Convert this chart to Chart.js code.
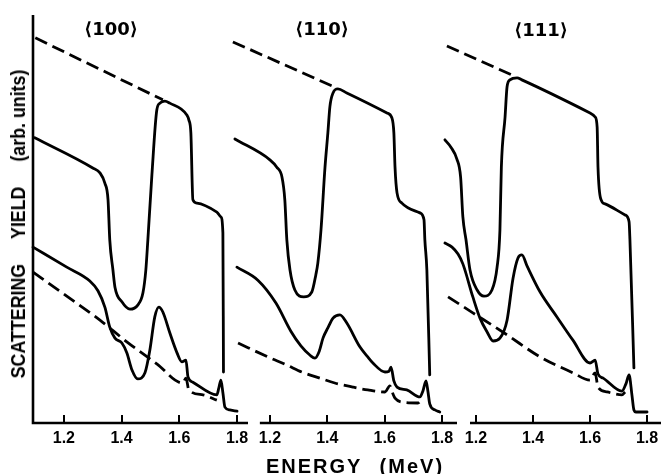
<!DOCTYPE html>
<html><head><meta charset="utf-8">
<script src="https://cdn.jsdelivr.net/npm/chart.js@4.4.1/dist/chart.umd.min.js"></script>
<style>
html,body{margin:0;padding:0;background:#fff;}
#wrap{position:relative;width:661px;height:474px;overflow:hidden;background:#fff;}
canvas{position:absolute;left:0;top:0;}
.t{position:absolute;color:#000;white-space:pre;font-family:"Liberation Sans",Arial,sans-serif;font-weight:bold;}
.pt{font-family:"DejaVu Sans",sans-serif;font-size:18px;line-height:18px;width:100px;text-align:center;}
#xtitle{left:250px;top:456px;width:210px;text-align:center;font-size:20px;line-height:20px;letter-spacing:2px;word-spacing:10px;}
#ytitle{left:-152px;top:217px;width:340px;height:20px;text-align:center;font-size:20px;line-height:20px;transform:rotate(-90deg) scaleX(0.89);}
.gap{display:inline-block;width:28px;}
</style></head><body>
<div id="wrap">
<canvas id="c100" width="661" height="474"></canvas>
<canvas id="c110" width="661" height="474"></canvas>
<canvas id="c111" width="661" height="474"></canvas>
<div class="t pt" id="t0" style="left:61px;top:20px;"></div>
<div class="t pt" id="t1" style="left:272px;top:20px;"></div>
<div class="t pt" id="t2" style="left:491px;top:21px;"></div>
<div class="t" id="xtitle">ENERGY (MeV)</div>
<div class="t" id="ytitle">SCATTERING<span class="gap"> </span>YIELD<span class="gap"> </span>(arb. units)</div>
</div>
<script>
// ---- labels ----
const panelTitles = ['\u27E8100\u27E9', '\u27E8110\u27E9', '\u27E8111\u27E9'];
const tickValues = [1.2, 1.4, 1.6, 1.8];
// visible x-axis extent of each panel (MeV)
const axisStart = [1.093, 1.165, 1.179];
const axisEnd = [1.838, 1.852, 1.849];
// plotted energy range of each panel (MeV)
const rangeMin = [1.093, 1.070, 1.085];
const rangeMax = [1.838, 1.852, 1.849];

// ---- <100> ----
const e100RandUpper = [1.101, 1.543];
const y100RandUpper = [94.4, 79.2];
const e100AlignUpper = [1.099, 1.300, 1.325, 1.342, 1.353, 1.359, 1.370, 1.377, 1.401, 1.429, 1.456, 1.474, 1.484, 1.491, 1.505, 1.522, 1.533, 1.550, 1.567, 1.626, 1.633, 1.640, 1.647, 1.661, 1.730, 1.744, 1.751, 1.753];
const y100AlignUpper = [69.9, 62.5, 61.3, 58.8, 54.7, 44.9, 37.5, 33.3, 29.7, 27.9, 28.9, 31.9, 37.5, 44.9, 60.8, 76.7, 78.4, 78.9, 78.4, 75.5, 74.3, 71.1, 54.7, 53.9, 51.7, 50.5, 46.6, 12.5];
const e100AlignLower = [1.093, 1.210, 1.290, 1.318, 1.342, 1.359, 1.377, 1.401, 1.418, 1.436, 1.456, 1.481, 1.498, 1.515, 1.529, 1.543, 1.567, 1.592, 1.609, 1.623, 1.630, 1.647, 1.730, 1.737, 1.744, 1.751, 1.758, 1.775, 1.800];
const y100AlignLower = [43.1, 38.2, 34.8, 32.4, 28.4, 23.5, 20.8, 19.6, 17.2, 13.0, 10.8, 12.3, 17.9, 26.0, 28.4, 27.2, 22.1, 17.2, 15.0, 15.4, 11.3, 10.0, 6.9, 8.6, 10.5, 7.4, 3.9, 3.2, 2.9];
const e100RandLower = [1.093, 1.210, 1.325, 1.418, 1.522, 1.612, 1.623, 1.633, 1.682, 1.730];
const y100RandLower = [37.0, 31.1, 25.2, 19.9, 14.5, 9.8, 11.0, 8.1, 6.9, 5.6];

// ---- <110> ----
const e110RandUpper = [1.071, 1.433];
const y110RandUpper = [93.4, 82.1];
const e110AlignUpper = [1.078, 1.200, 1.224, 1.242, 1.252, 1.259, 1.270, 1.287, 1.318, 1.346, 1.360, 1.367, 1.378, 1.392, 1.402, 1.409, 1.420, 1.437, 1.468, 1.608, 1.625, 1.632, 1.636, 1.643, 1.660, 1.723, 1.737, 1.740, 1.747, 1.757];
const y110AlignUpper = [69.6, 64.5, 62.7, 60.3, 54.7, 44.9, 37.5, 32.6, 30.9, 32.1, 36.3, 39.2, 47.3, 62.7, 71.1, 77.5, 80.9, 81.9, 80.9, 76.0, 74.8, 71.1, 62.7, 56.4, 53.9, 51.5, 49.8, 44.9, 37.5, 11.8];
const e110AlignLower = [1.085, 1.158, 1.221, 1.273, 1.308, 1.340, 1.357, 1.372, 1.385, 1.402, 1.420, 1.444, 1.468, 1.514, 1.541, 1.559, 1.601, 1.615, 1.622, 1.632, 1.643, 1.677, 1.723, 1.733, 1.744, 1.751, 1.757, 1.775, 1.792];
const y110AlignLower = [38.2, 35.0, 29.4, 22.5, 18.9, 16.6, 15.9, 17.6, 20.8, 23.3, 25.7, 26.5, 24.5, 18.6, 16.2, 14.7, 12.5, 12.7, 13.7, 10.3, 8.8, 8.1, 6.4, 7.8, 10.3, 7.6, 4.7, 3.2, 2.7];
const e110RandLower = [1.089, 1.193, 1.259, 1.311, 1.374, 1.426, 1.489, 1.541, 1.601, 1.618, 1.629, 1.636, 1.663, 1.716, 1.730];
const y110RandLower = [19.6, 16.2, 14.2, 12.5, 11.0, 9.8, 8.8, 8.1, 7.6, 9.1, 7.1, 6.1, 5.1, 4.9, 5.9];

// ---- <111> ----
const e111RandUpper = [1.098, 1.326];
const y111RandUpper = [92.4, 85.3];
const e111AlignUpper = [1.091, 1.112, 1.133, 1.146, 1.154, 1.165, 1.179, 1.204, 1.228, 1.256, 1.274, 1.284, 1.289, 1.302, 1.309, 1.319, 1.344, 1.361, 1.600, 1.618, 1.625, 1.628, 1.639, 1.653, 1.723, 1.737, 1.740, 1.754];
const y111AlignUpper = [69.4, 67.6, 64.7, 60.3, 50.5, 44.9, 37.5, 32.6, 31.1, 32.6, 38.2, 47.3, 62.7, 75.0, 82.4, 84.1, 84.6, 84.1, 76.0, 75.0, 72.5, 62.7, 54.7, 53.7, 51.0, 49.3, 44.9, 13.5];
const e111AlignLower = [1.091, 1.116, 1.137, 1.154, 1.189, 1.214, 1.239, 1.260, 1.284, 1.309, 1.330, 1.347, 1.361, 1.379, 1.425, 1.484, 1.540, 1.600, 1.618, 1.628, 1.646, 1.712, 1.726, 1.737, 1.747, 1.754, 1.761, 1.800];
const y111AlignLower = [44.1, 43.1, 41.4, 39.0, 30.9, 25.7, 22.3, 20.1, 20.8, 25.2, 35.5, 40.4, 41.2, 38.5, 32.1, 26.0, 20.3, 14.7, 15.4, 12.0, 11.0, 7.8, 9.6, 11.8, 6.9, 3.2, 2.7, 2.7];
const e111RandLower = [1.102, 1.189, 1.309, 1.425, 1.540, 1.600, 1.618, 1.628, 1.660, 1.712, 1.723];
const y111RandLower = [30.9, 27.0, 21.6, 16.2, 12.3, 10.5, 12.3, 8.8, 7.6, 6.9, 7.6];

// ---- drawing ----
panelTitles.forEach((t, i) => { document.getElementById('t' + i).textContent = t; });

const axisLines = {
  id: 'axisLines',
  afterDraw(chart, args, opts) {
    const {ctx, scales: {x, y}} = chart;
    const yb = y.getPixelForValue(y.min);
    const xl = x.getPixelForValue(opts.from);
    ctx.save();
    ctx.strokeStyle = '#000';
    ctx.lineWidth = 2.6;
    ctx.beginPath();
    ctx.moveTo(xl, yb);
    ctx.lineTo(x.getPixelForValue(opts.to), yb);
    if (opts.yAxis) {
      ctx.moveTo(xl, yb + 1.3);
      ctx.lineTo(xl, y.getPixelForValue(y.max));
    }
    ctx.stroke();
    ctx.restore();
  }
};

function ds(e, v, dashed) {
  return {
    data: e.map((x, i) => ({x: x, y: v[i]})),
    borderColor: '#000',
    borderWidth: 2.8,
    borderDash: dashed ? [13, 6] : [],
    borderJoinStyle: 'round',
    borderCapStyle: dashed ? 'butt' : 'round',
    pointRadius: 0,
    fill: false,
    cubicInterpolationMode: 'monotone',
    clip: false
  };
}

function makePanel(id, idx, sets, padLeft, padRight) {
  new Chart(document.getElementById(id), {
    type: 'line',
    data: {datasets: sets},
    plugins: [axisLines],
    options: {
      responsive: false,
      animation: false,
      devicePixelRatio: 1,
      layout: {padding: {left: padLeft, right: padRight, top: 15, bottom: 0}},
      plugins: {
        legend: {display: false},
        tooltip: {enabled: false},
        axisLines: {from: axisStart[idx], to: axisEnd[idx], yAxis: idx === 0}
      },
      scales: {
        x: {
          type: 'linear',
          min: rangeMin[idx],
          max: rangeMax[idx],
          afterBuildTicks: s => { s.ticks = tickValues.map(v => ({value: v})); },
          afterFit: s => { s.height = 51; s.paddingLeft = 0; s.paddingRight = 0; },
          ticks: {
            autoSkip: false, maxRotation: 0, padding: 14, color: '#000',
            font: {family: 'Liberation Sans', size: 16, weight: 'bold'},
            callback: v => Number(v).toFixed(1)
          },
          grid: {display: true, drawOnChartArea: false, drawTicks: true, tickLength: -8, color: '#000', lineWidth: 2},
          border: {display: false}
        },
        y: {display: false, min: 0, max: 100}
      }
    }
  });
}

makePanel('c100', 0, [
  ds(e100RandUpper, y100RandUpper, true),
  ds(e100AlignUpper, y100AlignUpper, false),
  ds(e100AlignLower, y100AlignLower, false),
  ds(e100RandLower, y100RandLower, true)
], 33, 413);

makePanel('c110', 1, [
  ds(e110RandUpper, y110RandUpper, true),
  ds(e110AlignUpper, y110AlignUpper, false),
  ds(e110AlignLower, y110AlignLower, false),
  ds(e110RandLower, y110RandLower, true)
], 232.6, 204);

makePanel('c111', 2, [
  ds(e111RandUpper, y111RandUpper, true),
  ds(e111AlignUpper, y111AlignUpper, false),
  ds(e111AlignLower, y111AlignLower, false),
  ds(e111RandLower, y111RandLower, true)
], 443.2, 0);
</script>
</body></html>
